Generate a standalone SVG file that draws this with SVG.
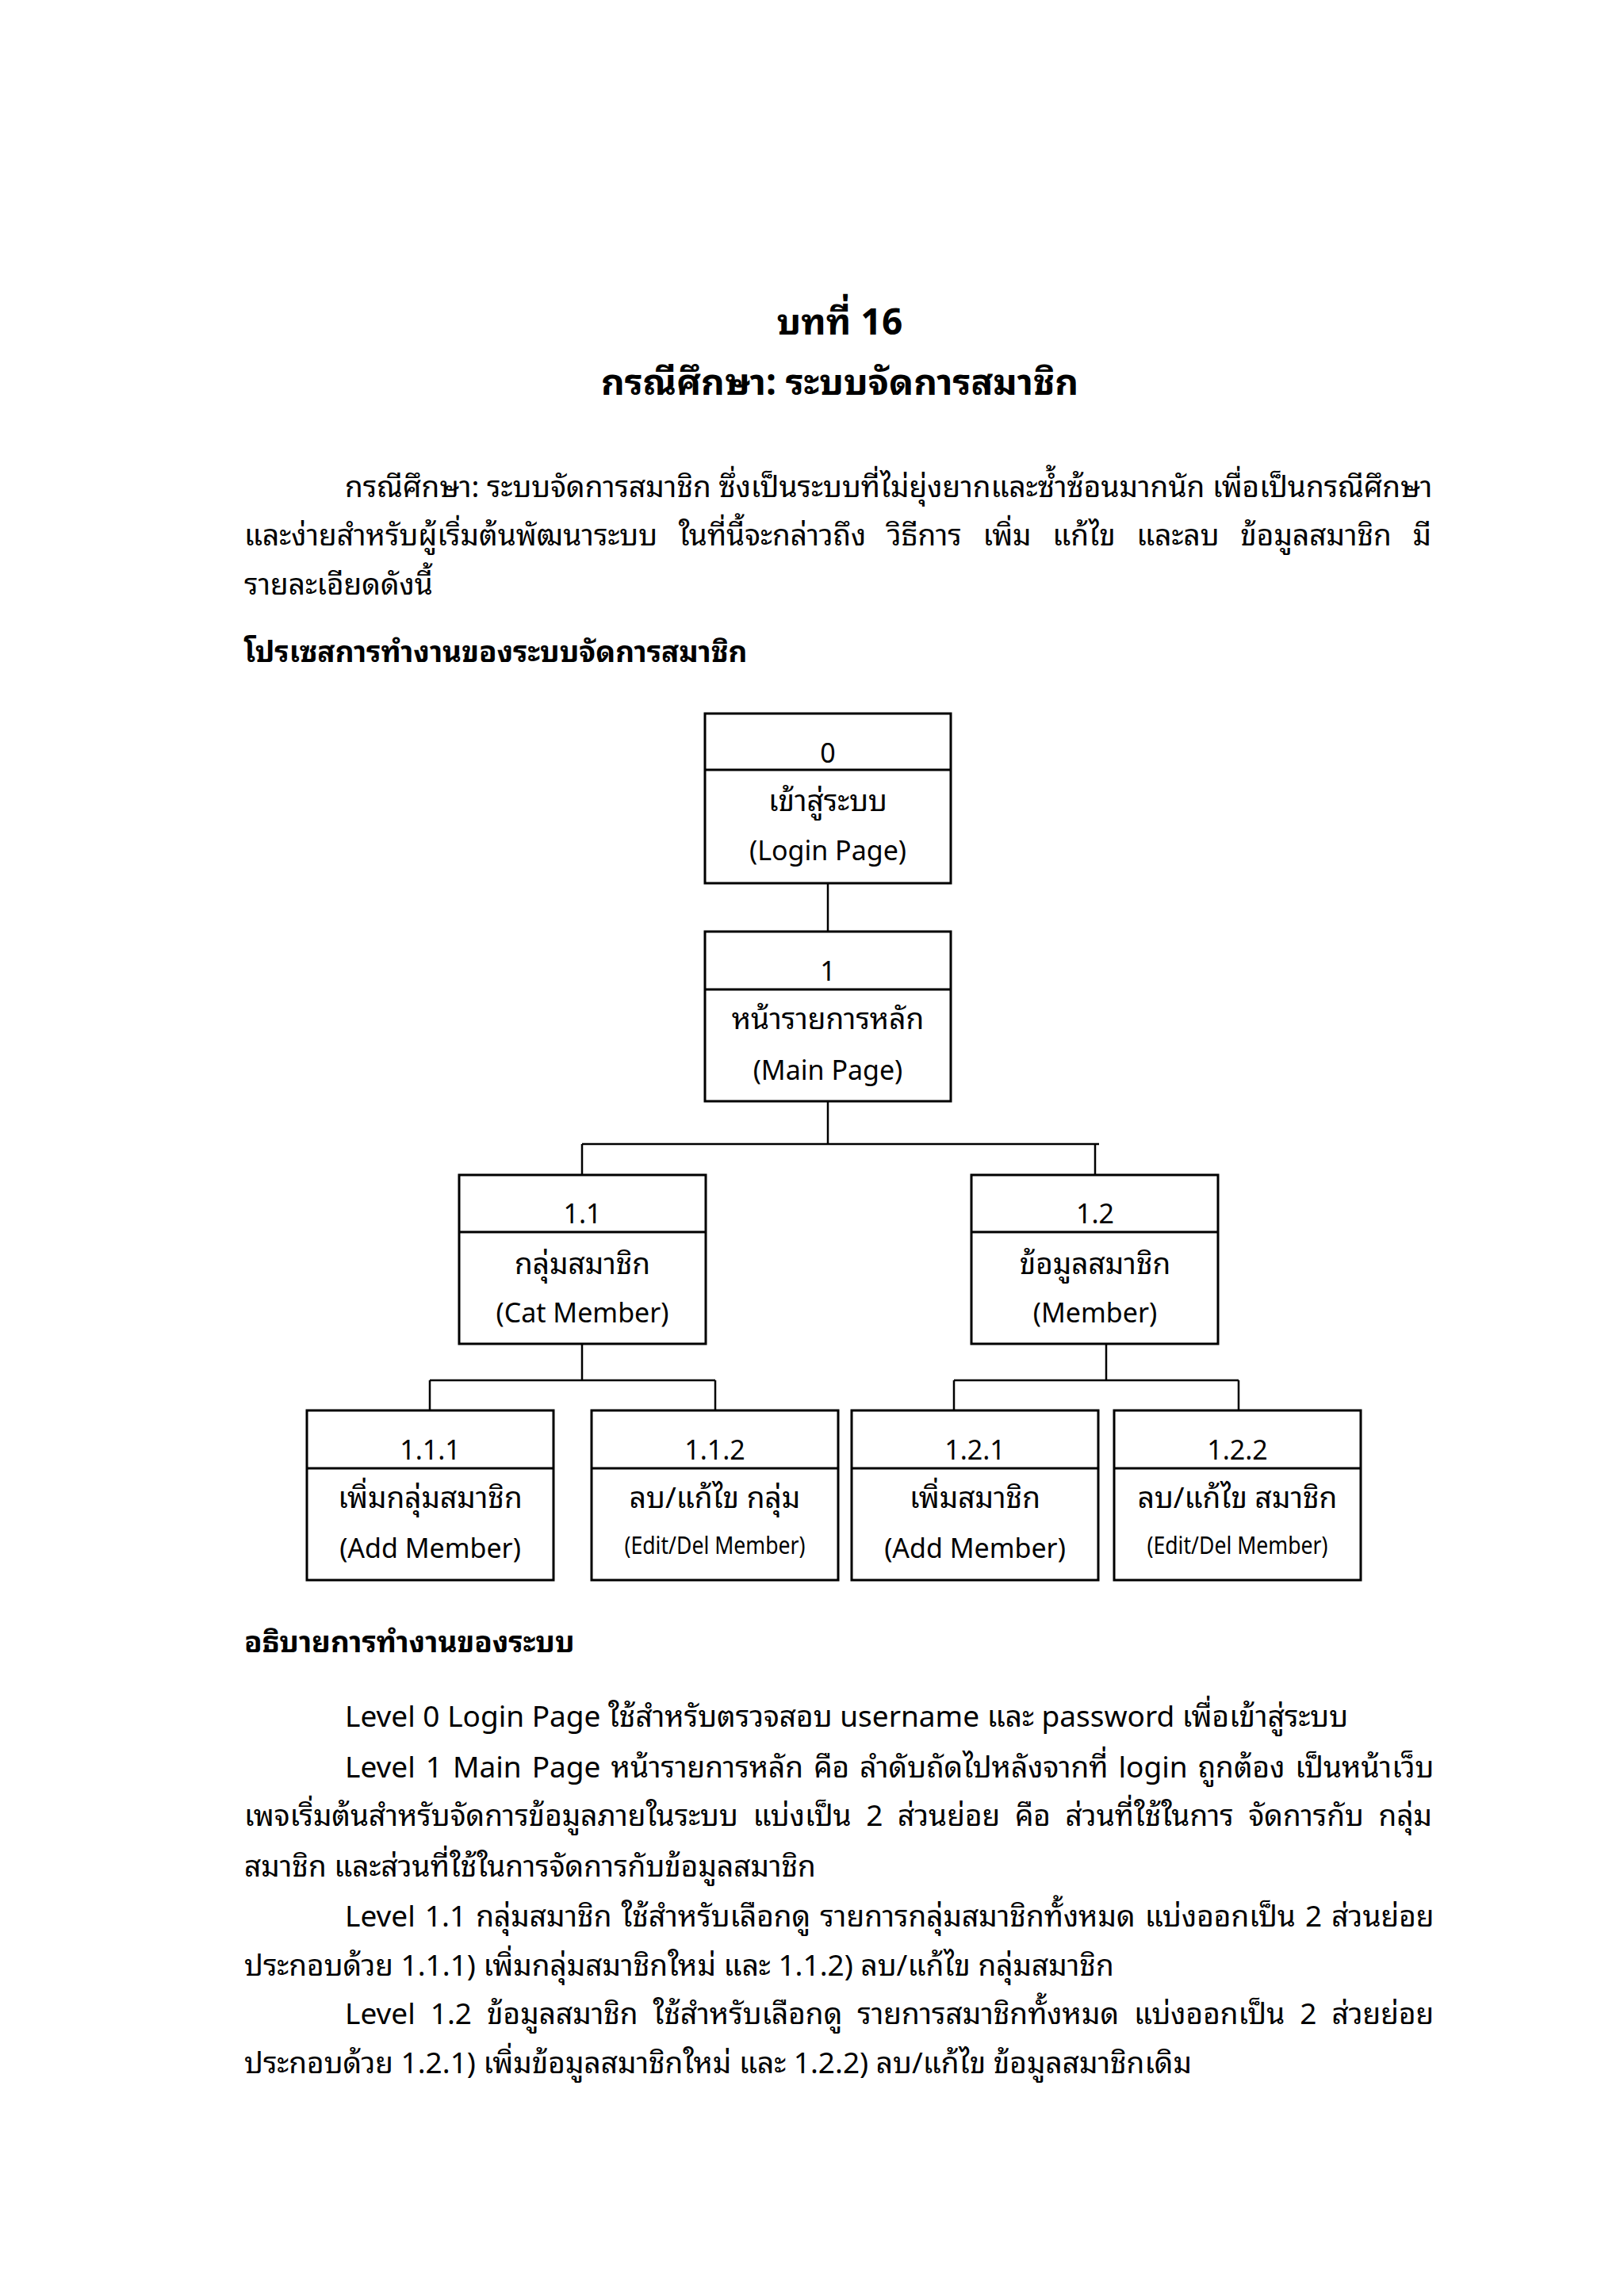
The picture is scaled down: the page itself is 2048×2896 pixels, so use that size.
<svg xmlns="http://www.w3.org/2000/svg" width="2048" height="2896" viewBox="0 0 2048 2896">
<style>
text{font-family:"Noto Sans Thai Looped","Noto Sans Thai","Noto Sans","DejaVu Sans",sans-serif;fill:#000}
.t{font-size:34px;text-anchor:middle}
.tt{font-size:37px;text-anchor:middle}
.sm{font-size:30px;text-anchor:middle}
.b{font-size:37px}
.h{font-size:36.8px;font-weight:bold}
.ti{font-size:46px;font-weight:bold;text-anchor:middle}
.box{fill:#fff;stroke:#000;stroke-width:3}
.div{stroke:#000;stroke-width:3}
.con{stroke:#000;stroke-width:2.5;fill:none}
</style>
<rect width="2048" height="2896" fill="#fff"/>
<g id="title">
<text class="ti" x="1059" y="422">บทที่ 16</text>
<text class="ti" x="1059" y="498">กรณีศึกษา: ระบบจัดการสมาชิก</text>
</g>
<g id="intro">
<text class="b" x="435" y="627">กรณีศึกษา: ระบบจัดการสมาชิก ซึ่งเป็นระบบที่ไม่ยุ่งยากและซ้ำซ้อนมากนัก เพื่อเป็นกรณีศึกษา</text>
<text class="b" x="308" y="688" word-spacing="17">และง่ายสำหรับผู้เริ่มต้นพัฒนาระบบ ในที่นี้จะกล่าวถึง วิธีการ เพิ่ม แก้ไข และลบ ข้อมูลสมาชิก มี</text>
<text class="b" x="308" y="750">รายละเอียดดังนี้</text>
<text class="h" x="308" y="835">โปรเซสการทำงานของระบบจัดการสมาชิก</text>
</g>
<g id="connectors">
<path class="con" d="M1044,1114V1175M1044,1389V1443M734,1443H1386M734,1443V1482M1381,1443V1482M734,1695V1741M542,1741H902M542,1741V1779M902,1741V1779M1395,1695V1741M1203,1741H1562M1203,1741V1779M1562,1741V1779"/>
</g>
<g id="n0">
<rect class="box" x="889" y="900" width="310" height="214"/>
<line class="div" x1="889" y1="971" x2="1199" y2="971"/>
<text class="t" x="1044" y="962">0</text>
<text class="tt" x="1044" y="1023">เข้าสู่ระบบ</text>
<text class="t" x="1044" y="1085">(Login Page)</text>
</g>
<g id="n1">
<rect class="box" x="889" y="1175" width="310" height="214"/>
<line class="div" x1="889" y1="1248" x2="1199" y2="1248"/>
<text class="t" x="1044" y="1237">1</text>
<text class="tt" x="1044" y="1298">หน้ารายการหลัก</text>
<text class="t" x="1044" y="1362">(Main Page)</text>
</g>
<g id="n11">
<rect class="box" x="579" y="1482" width="311" height="213"/>
<line class="div" x1="579" y1="1554" x2="890" y2="1554"/>
<text class="t" x="734.5" y="1543">1.1</text>
<text class="tt" x="734.5" y="1607">กลุ่มสมาชิก</text>
<text class="t" x="734.5" y="1668">(Cat Member)</text>
</g>
<g id="n12">
<rect class="box" x="1225" y="1482" width="311" height="213"/>
<line class="div" x1="1225" y1="1554" x2="1536" y2="1554"/>
<text class="t" x="1381" y="1543">1.2</text>
<text class="tt" x="1381" y="1607">ข้อมูลสมาชิก</text>
<text class="t" x="1381" y="1668">(Member)</text>
</g>
<g id="n111">
<rect class="box" x="387" y="1779" width="311" height="214"/>
<line class="div" x1="387" y1="1852" x2="698" y2="1852"/>
<text class="t" x="542.5" y="1841">1.1.1</text>
<text class="tt" x="542.5" y="1902">เพิ่มกลุ่มสมาชิก</text>
<text class="t" x="542.5" y="1965">(Add Member)</text>
</g>
<g id="n112">
<rect class="box" x="746" y="1779" width="311" height="214"/>
<line class="div" x1="746" y1="1852" x2="1057" y2="1852"/>
<text class="t" x="901.5" y="1841">1.1.2</text>
<text class="tt" x="901.5" y="1902">ลบ/แก้ไข กลุ่ม</text>
<text class="sm" x="901.5" y="1960" textLength="228" lengthAdjust="spacingAndGlyphs">(Edit/Del Member)</text>
</g>
<g id="n121">
<rect class="box" x="1074" y="1779" width="311" height="214"/>
<line class="div" x1="1074" y1="1852" x2="1385" y2="1852"/>
<text class="t" x="1229.5" y="1841">1.2.1</text>
<text class="tt" x="1229.5" y="1902">เพิ่มสมาชิก</text>
<text class="t" x="1229.5" y="1965">(Add Member)</text>
</g>
<g id="n122">
<rect class="box" x="1405" y="1779" width="311" height="214"/>
<line class="div" x1="1405" y1="1852" x2="1716" y2="1852"/>
<text class="t" x="1560.5" y="1841">1.2.2</text>
<text class="tt" x="1560.5" y="1902">ลบ/แก้ไข สมาชิก</text>
<text class="sm" x="1560.5" y="1960" textLength="228" lengthAdjust="spacingAndGlyphs">(Edit/Del Member)</text>
</g>
<g id="desc">
<text class="h" x="308" y="2084">อธิบายการทำงานของระบบ</text>
<text class="b" x="435" y="2178">Level 0 Login Page ใช้สำหรับตรวจสอบ username และ password เพื่อเข้าสู่ระบบ</text>
<text class="b" x="435" y="2242" word-spacing="3.4">Level 1 Main Page หน้ารายการหลัก คือ ลำดับถัดไปหลังจากที่ login ถูกต้อง เป็นหน้าเว็บ</text>
<text class="b" x="308" y="2303" word-spacing="9">เพจเริ่มต้นสำหรับจัดการข้อมูลภายในระบบ แบ่งเป็น 2 ส่วนย่อย คือ ส่วนที่ใช้ในการ จัดการกับ กลุ่ม</text>
<text class="b" x="308" y="2367">สมาชิก และส่วนที่ใช้ในการจัดการกับข้อมูลสมาชิก</text>
<text class="b" x="435" y="2430" word-spacing="2.5">Level 1.1 กลุ่มสมาชิก ใช้สำหรับเลือกดู รายการกลุ่มสมาชิกทั้งหมด แบ่งออกเป็น 2 ส่วนย่อย</text>
<text class="b" x="308" y="2492">ประกอบด้วย 1.1.1) เพิ่มกลุ่มสมาชิกใหม่ และ 1.1.2) ลบ/แก้ไข กลุ่มสมาชิก</text>
<text class="b" x="435" y="2553" word-spacing="9.4">Level 1.2 ข้อมูลสมาชิก ใช้สำหรับเลือกดู รายการสมาชิกทั้งหมด แบ่งออกเป็น 2 ส่วยย่อย</text>
<text class="b" x="308" y="2615">ประกอบด้วย 1.2.1) เพิ่มข้อมูลสมาชิกใหม่ และ 1.2.2) ลบ/แก้ไข ข้อมูลสมาชิกเดิม</text>
</g>
</svg>
